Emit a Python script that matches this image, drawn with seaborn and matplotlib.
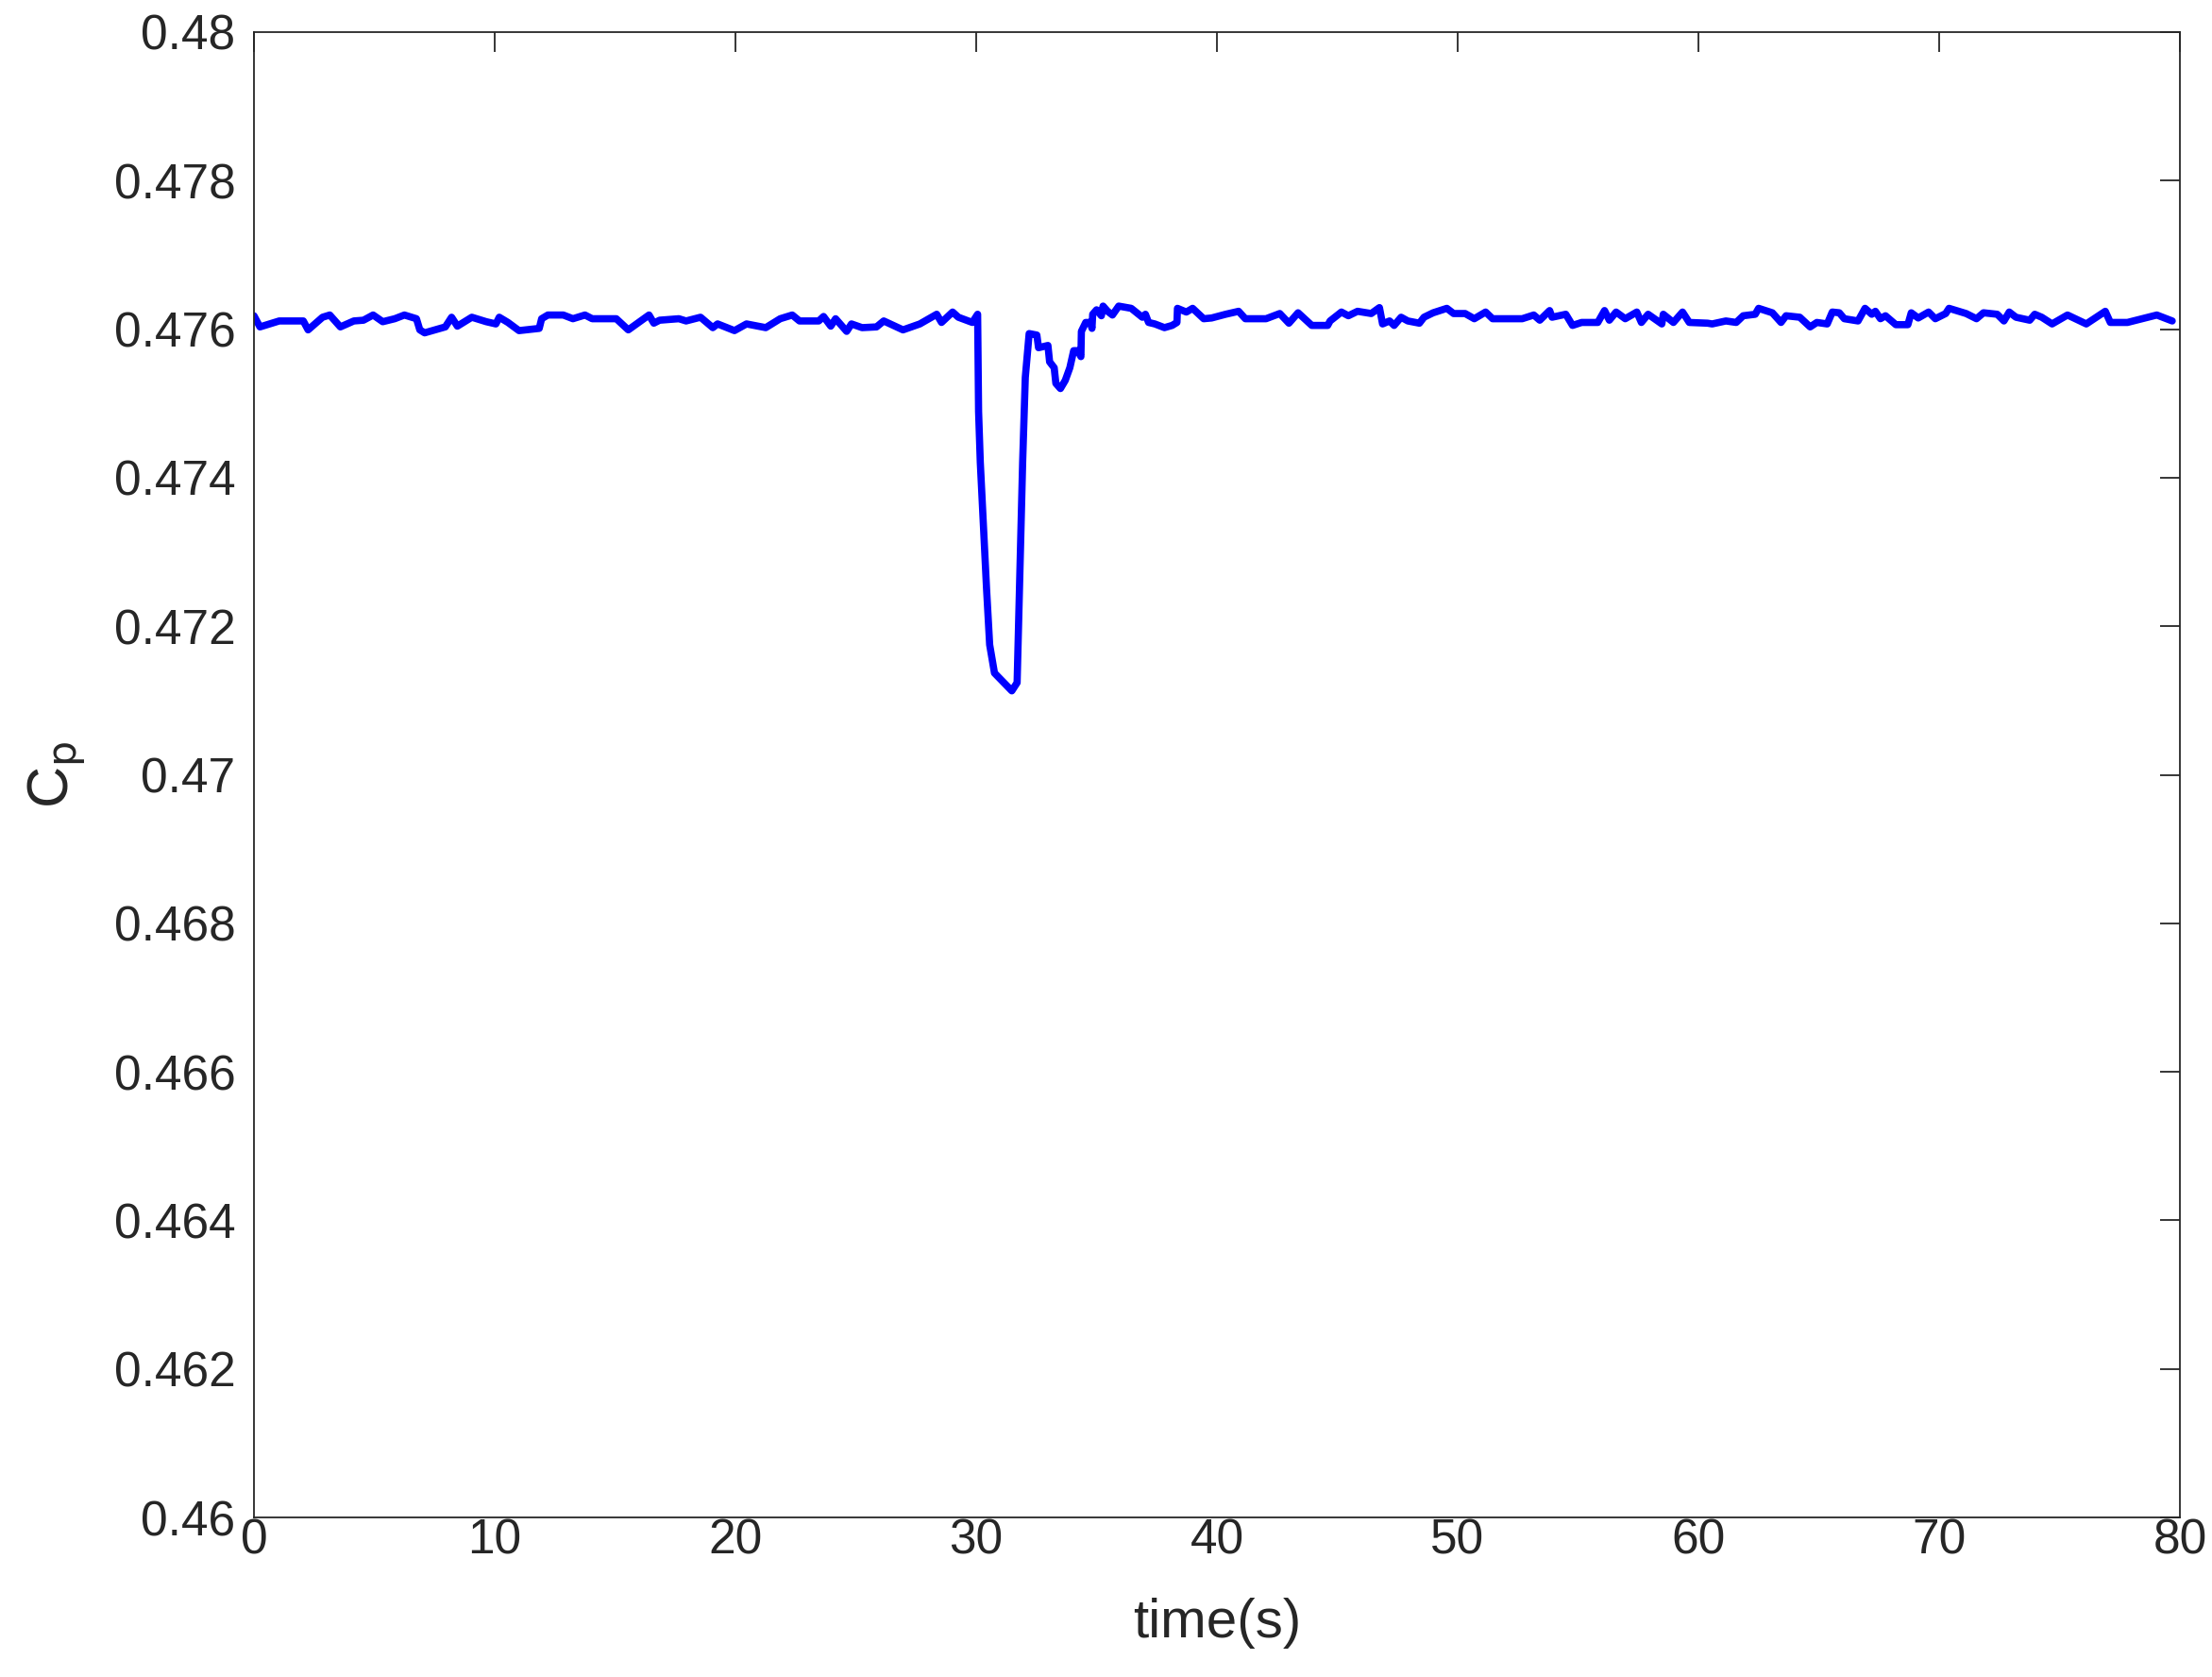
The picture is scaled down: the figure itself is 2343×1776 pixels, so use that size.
import numpy as np
import matplotlib
matplotlib.use("Agg")
import matplotlib.pyplot as plt
import seaborn as sns
import pandas as pd
from matplotlib.ticker import FuncFormatter

# values
time = [0.0, 0.25, 1.05, 2.05, 2.25, 2.85, 3.15, 3.59, 4.15, 4.55, 4.95, 5.35, 5.85, 6.25,
        6.75, 6.89, 7.09, 7.95, 8.21, 8.45, 9.05, 9.65, 10.05, 10.19, 10.55, 11.01, 11.85,
        11.95, 12.21, 12.85, 13.25, 13.75, 14.05, 15.05, 15.55, 16.41, 16.61, 16.85, 17.65,
        17.95, 18.55, 19.06, 19.26, 19.96, 20.46, 21.26, 21.86, 22.36, 22.66, 23.46, 23.66,
        23.96, 24.16, 24.62, 24.82, 25.26, 25.86, 26.16, 26.96, 27.66, 28.36, 28.56, 29.02,
        29.26, 29.84, 30.06,
        30.10, 30.17, 30.30, 30.43, 30.56, 30.76, 31.15, 31.48, 31.70, 31.80, 31.93, 32.04,
        32.20, 32.52, 32.59, 32.98, 33.05, 33.24, 33.31, 33.50, 33.70, 33.89, 34.05, 34.22,
        34.35, 34.37, 34.55, 34.75, 34.81, 34.84, 35.00, 35.20, 35.27, 35.46, 35.66, 35.92,
        36.44, 36.90, 37.03, 37.16, 37.42, 37.82, 38.14, 38.34, 38.36, 38.73, 38.99, 39.45,
        39.78, 40.36,
        40.90, 41.18, 42.04, 42.61, 42.99, 43.37, 43.94, 44.60, 44.70, 45.17, 45.46, 45.84,
        46.41, 46.75, 46.88, 47.17, 47.36, 47.65, 47.93, 48.41, 48.60, 48.98, 49.55, 49.83,
        50.31, 50.69, 51.16, 51.45, 52.68, 53.16, 53.41, 53.82, 53.92, 54.49, 54.77, 55.15,
        55.82, 56.10, 56.30, 56.58, 56.96, 57.44, 57.63, 57.91, 58.48, 58.54, 58.96, 59.34,
        59.62, 60.38,
        60.57, 61.14, 61.57, 61.86, 62.36, 62.50, 63.07, 63.43, 63.64, 64.21, 64.64, 64.92,
        65.35, 65.56, 65.85, 66.06, 66.63, 66.92, 67.20, 67.35, 67.56, 67.77, 68.20, 68.70,
        68.84, 69.13, 69.56, 69.84, 70.27, 70.41, 71.12, 71.55, 71.84, 72.41, 72.69, 72.91,
        73.19, 73.76, 73.97, 74.26, 74.69, 75.33, 76.11, 76.90, 77.11, 77.82, 79.04, 79.68]

cp = [0.47618, 0.47603, 0.47611, 0.47611, 0.47599, 0.47616, 0.47619, 0.47603, 0.47611,
      0.47612, 0.47619, 0.47610, 0.47614, 0.47619, 0.47614, 0.47599, 0.47595, 0.47603,
      0.47616, 0.47604, 0.47616, 0.47610, 0.47607, 0.47616, 0.47609, 0.47598, 0.47601,
      0.47614, 0.47619, 0.47619, 0.47614, 0.47619, 0.47614, 0.47614, 0.47599, 0.47619,
      0.47608, 0.47612, 0.47614, 0.47611, 0.47616, 0.47602, 0.47607, 0.47598, 0.47607,
      0.47602, 0.47614, 0.47619, 0.47611, 0.47611, 0.47617, 0.47604, 0.47614, 0.47597,
      0.47607, 0.47602, 0.47603, 0.47611, 0.47599, 0.47607, 0.47620, 0.47609, 0.47623,
      0.47616, 0.47609, 0.47620,
      0.47489, 0.47421, 0.47336, 0.47251, 0.47175, 0.47137, 0.47124, 0.47113, 0.47124,
      0.47251, 0.47421, 0.47535, 0.47594, 0.47592, 0.47575, 0.47578, 0.47556, 0.47548,
      0.47527, 0.47520, 0.47531, 0.47548, 0.47571, 0.47571, 0.47563, 0.47597, 0.47609,
      0.47609, 0.47601, 0.47620, 0.47626, 0.47618, 0.47631, 0.47624, 0.47619, 0.47631,
      0.47628, 0.47616, 0.47620, 0.47609, 0.47607, 0.47602, 0.47605, 0.47609, 0.47628,
      0.47623, 0.47628, 0.47614, 0.47615, 0.47620,
      0.47624, 0.47614, 0.47614, 0.47621, 0.47608, 0.47622, 0.47605, 0.47605, 0.47611,
      0.47623, 0.47618, 0.47624, 0.47621, 0.47629, 0.47607, 0.47611, 0.47605, 0.47616,
      0.47611, 0.47608, 0.47616, 0.47622, 0.47628, 0.47621, 0.47621, 0.47614, 0.47623,
      0.47614, 0.47614, 0.47619, 0.47612, 0.47625, 0.47616, 0.47620, 0.47605, 0.47609,
      0.47609, 0.47625, 0.47612, 0.47623, 0.47614, 0.47623, 0.47609, 0.47620, 0.47607,
      0.47620, 0.47609, 0.47623, 0.47609, 0.47608,
      0.47607, 0.47611, 0.47609, 0.47618, 0.47620, 0.47628, 0.47622, 0.47609, 0.47618,
      0.47616, 0.47603, 0.47609, 0.47607, 0.47623, 0.47622, 0.47614, 0.47611, 0.47628,
      0.47620, 0.47624, 0.47614, 0.47618, 0.47606, 0.47606, 0.47622, 0.47615, 0.47623,
      0.47614, 0.47621, 0.47628, 0.47621, 0.47614, 0.47622, 0.47620, 0.47611, 0.47623,
      0.47616, 0.47612, 0.47620, 0.47616, 0.47607, 0.47619, 0.47607, 0.47624, 0.47609,
      0.47609, 0.47619, 0.47611]

x_ticks = list(range(0, 81, 10))
y_ticks = [0.46 + 0.002 * i for i in range(11)]

sns.set_style("white")
plt.rcParams["font.family"] = ["Liberation Sans", "DejaVu Sans"]
plt.rcParams["mathtext.default"] = "regular"

text_color = "#262626"

data = pd.DataFrame({"time": time, "Cp": cp})

fig = plt.figure(figsize=(23.43, 17.76), dpi=100)
ax = fig.add_axes([0.1148, 0.0951, 0.8707, 0.8858])

sns.lineplot(data=data, x="time", y="Cp", ax=ax, color="#0000ff", linewidth=5.5,
             estimator=None, sort=False)

ax.set_xlim(0, 80)
ax.set_ylim(0.46, 0.48)
ax.set_xticks(x_ticks)
ax.set_yticks(y_ticks)
ax.yaxis.set_major_formatter(FuncFormatter(lambda v, p: "%g" % round(v, 4)))

ax.tick_params(direction="in", length=15, width=1.3, top=True, right=True,
               labelsize=37, colors=text_color)
ax.tick_params(axis="x", pad=0)
ax.tick_params(axis="y", pad=14)
for s in ax.spines.values():
    s.set_color(text_color)
    s.set_linewidth(1.3)

ax.set_xlabel("time(s)", fontsize=42, color=text_color, labelpad=26)
ax.set_ylabel("C$_\\mathrm{p}$", fontsize=44, color=text_color, labelpad=20)

plt.savefig("out.png", dpi=100)
